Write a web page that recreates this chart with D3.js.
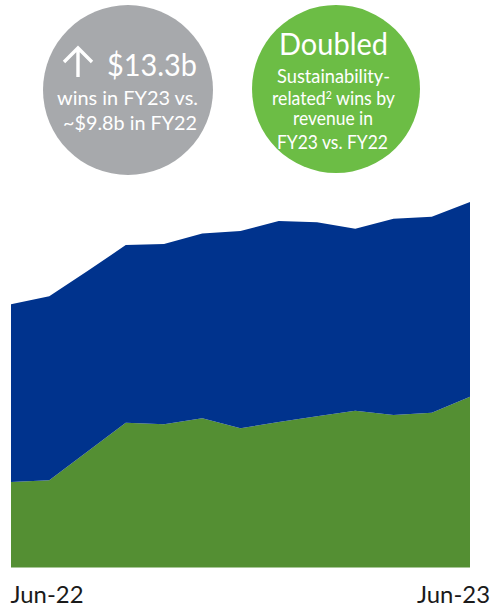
<!DOCTYPE html>
<html>
<head>
<meta charset="utf-8">
<script src="https://cdn.jsdelivr.net/npm/d3@7"></script>
<style>
  html, body { margin: 0; padding: 0; background: #fff; }
  svg { display: block; }
  text { font-family: Lato, "Open Sans", "Noto Sans", sans-serif; font-weight: 400; }
</style>
</head>
<body>
<svg id="chart" width="492" height="609"></svg>
<script>
// ---- Data (arbitrary units) ----
const months = ["Jun-22","Jul-22","Aug-22","Sep-22","Oct-22","Nov-22","Dec-22",
                "Jan-23","Feb-23","Mar-23","Apr-23","May-23","Jun-23"];
const sustainabilityWins = [21.4, 21.8, 29.0, 36.2, 35.8, 37.3, 34.8, 36.4, 37.8, 39.2, 38.1, 38.7, 42.7];
const otherWins          = [44.4, 46.0, 45.1, 44.4, 45.1, 46.2, 49.3, 50.2, 48.5, 45.5, 49.1, 49.0, 48.7];
const xTickLabels = ["Jun-22", "Jun-23"];

const svg = d3.select("#chart");

// ---- Callout circles ----
const grayC = svg.append("g");
grayC.append("circle").attr("cx", 128).attr("cy", 90).attr("r", 85).attr("fill", "#a7a9ac");
// up arrow
grayC.append("path")
  .attr("d", "M78,77 L78,49 M64,62 L78,48 L92,62")
  .attr("fill", "none").attr("stroke", "#fff").attr("stroke-width", 3.4)
  .attr("stroke-linecap", "butt").attr("stroke-linejoin", "miter");
const gt = [
  {t: "$13.3b", x: 107, y: 76, s: 31, w: 90},
  {t: "wins in FY23 vs.", x: 57, y: 104.5, s: 19, w: 141},
  {t: "~$9.8b in FY22", x: 63, y: 129.5, s: 19, w: 134}
];
grayC.selectAll("text.g").data(gt).join("text")
  .attr("x", d => d.x).attr("y", d => d.y)
  .attr("font-size", d => d.s).attr("fill", "#fff")
  .attr("textLength", d => d.w).attr("lengthAdjust", "spacingAndGlyphs")
  .text(d => d.t);

const greenC = svg.append("g");
greenC.append("circle").attr("cx", 336).attr("cy", 89).attr("r", 84).attr("fill", "#6cbd45");
const grt = [
  {t: "Doubled", x: 279, y: 54.5, s: 30, w: 109},
  {t: "Sustainability-", x: 277, y: 83, s: 18.5, w: 113},
  {t: "revenue in", x: 293, y: 125, s: 18.5, w: 80},
  {t: "FY23 vs. FY22", x: 277, y: 148.5, s: 18.5, w: 111}
];
greenC.selectAll("text.t").data(grt).join("text")
  .attr("x", d => d.x).attr("y", d => d.y)
  .attr("font-size", d => d.s).attr("fill", "#fff")
  .attr("textLength", d => d.w).attr("lengthAdjust", "spacingAndGlyphs")
  .text(d => d.t);
const rel = greenC.append("text").attr("x", 272).attr("y", 104.5)
  .attr("font-size", 18.5).attr("fill", "#fff");
rel.append("tspan").text("related");
rel.append("tspan").attr("font-size", 11).attr("dy", -6).text("2");
rel.append("tspan").attr("dy", 6).text(" wins by");
rel.attr("textLength", 123).attr("lengthAdjust", "spacingAndGlyphs");

// ---- Stacked area chart ----
const x = d3.scalePoint().domain(months).range([11, 470]);
const y = d3.scaleLinear().domain([0, 100]).range([567.5, 167.5]);

const rows = months.map((m, i) => ({month: m, sust: sustainabilityWins[i], other: otherWins[i]}));
const stack = d3.stack().keys(["sust", "other"]);
const series = stack(rows);
const colors = {sust: "#548f33", other: "#00338d"};

const area = d3.area()
  .x(d => x(d.data.month))
  .y0(d => y(d[0]))
  .y1(d => y(d[1]));

svg.append("g").selectAll("path").data(series).join("path")
  .attr("d", area)
  .attr("fill", d => colors[d.key]);

// ---- X labels ----
svg.append("g").selectAll("text").data(xTickLabels).join("text")
  .attr("x", (d, i) => i === 0 ? x(d) - 0.5 : x(d) + 20)
  .attr("y", 602.5)
  .attr("font-size", 24)
  .attr("fill", "#1a1a1a")
  .attr("text-anchor", (d, i) => i === 0 ? "start" : "end")
  .attr("textLength", 73).attr("lengthAdjust", "spacingAndGlyphs")
  .text(d => d);
</script>
</body>
</html>
